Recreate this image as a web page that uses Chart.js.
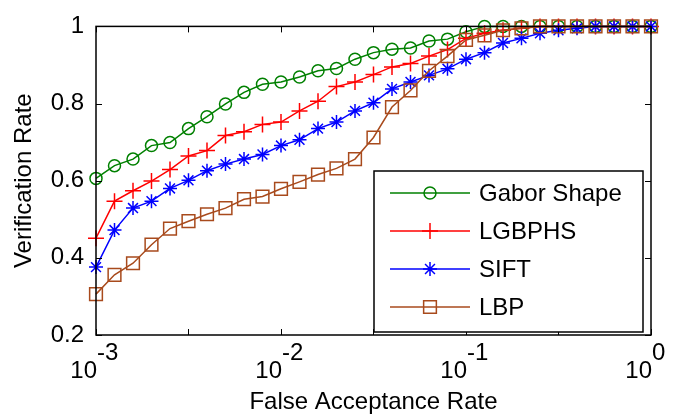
<!DOCTYPE html>
<html>
<head>
<meta charset="utf-8">
<script src="https://cdn.jsdelivr.net/npm/chart.js@4.4.1/dist/chart.umd.min.js"></script>
<style>
  body { margin: 0; background: #fff; }
  #wrap { width: 689px; height: 417px; }
</style>
</head>
<body>
<div id="wrap"><canvas id="rocChart"></canvas></div>
<script>
// false acceptance rate, one point every tenth of a decade
const far = [0.001, 0.001259, 0.001585, 0.001995, 0.002512, 0.003162, 0.003981, 0.005012, 0.00631, 0.007943,
  0.01, 0.01259, 0.01585, 0.01995, 0.02512, 0.03162, 0.03981, 0.05012, 0.0631, 0.07943,
  0.1, 0.1259, 0.1585, 0.1995, 0.2512, 0.3162, 0.3981, 0.5012, 0.631, 0.7943, 1];

const gaborShape = [0.606, 0.639, 0.656, 0.691, 0.699, 0.735, 0.766, 0.799, 0.829, 0.850,
  0.856, 0.869, 0.885, 0.891, 0.915, 0.932, 0.941, 0.944, 0.962, 0.967,
  0.986, 1, 1, 1, 1, 1, 1, 1, 1, 1, 1];
const lgbphs = [0.451, 0.547, 0.574, 0.599, 0.629, 0.664, 0.678, 0.717, 0.727, 0.746,
  0.752, 0.781, 0.806, 0.844, 0.856, 0.875, 0.895, 0.904, 0.923, 0.940,
  0.969, 0.982, 0.990, 0.995, 1, 1, 1, 1, 1, 1, 1];
const sift = [0.376, 0.472, 0.529, 0.547, 0.580, 0.601, 0.626, 0.643, 0.656, 0.668,
  0.691, 0.706, 0.735, 0.752, 0.781, 0.802, 0.838, 0.856, 0.873, 0.890,
  0.915, 0.932, 0.957, 0.969, 0.982, 0.990, 0.995, 1, 1, 1, 1];
const lbp = [0.306, 0.356, 0.386, 0.434, 0.476, 0.495, 0.513, 0.529, 0.552, 0.559,
  0.579, 0.597, 0.616, 0.632, 0.656, 0.712, 0.791, 0.834, 0.885, 0.923,
  0.965, 0.977, 0.990, 0.995, 1, 1, 1, 1, 1, 1, 1];

const seriesNames = ['Gabor Shape', 'LGBPHS', 'SIFT', 'LBP'];
const yTicks = [0.2, 0.4, 0.6, 0.8, 1];
const xTickMarks = [0.001, 0.003162, 0.01, 0.03162, 0.1, 0.3162, 1];
const xDecades = [-3, -2, -1, 0];

const FONT = "'Liberation Sans', Arial, sans-serif";

function pts(ys) {
  return ys.map((y, i) => ({ x: far[i], y: y }));
}

function makeSet(label, ys, color, style, radius, order) {
  return {
    label: label,
    data: pts(ys),
    borderColor: color,
    backgroundColor: color,
    borderWidth: 1.5,
    pointStyle: style,
    pointRadius: radius,
    pointBorderColor: color,
    pointBackgroundColor: 'rgba(0,0,0,0)',
    pointBorderWidth: 1.5,
    tension: 0,
    clip: false,
    order: order
  };
}

const datasets = [
  makeSet(seriesNames[0], gaborShape, '#008000', 'circle', 6, 4),
  makeSet(seriesNames[1], lgbphs, '#ff0000', 'cross', 8, 3),
  makeSet(seriesNames[2], sift, '#0000ff', 'star', 7, 2),
  makeSet(seriesNames[3], lbp, '#a84a1c', 'rect', 9, 1)
];

// box, inward ticks, decade labels and the legend, MATLAB style
const matlabAxes = {
  id: 'matlabAxes',
  afterDatasetsDraw(chart) {
    const ctx = chart.ctx;
    const a = chart.chartArea;
    const xs = chart.scales.x;
    const ys = chart.scales.y;
    ctx.save();
    ctx.strokeStyle = '#000';
    ctx.lineWidth = 1.5;
    ctx.strokeRect(a.left, a.top, a.right - a.left, a.bottom - a.top);

    ctx.lineWidth = 1;
    ctx.beginPath();
    xTickMarks.forEach(v => {
      const px = Math.round(xs.getPixelForValue(v)) + 0.5;
      ctx.moveTo(px, a.bottom); ctx.lineTo(px, a.bottom - 6);
      ctx.moveTo(px, a.top); ctx.lineTo(px, a.top + 6);
    });
    yTicks.forEach(v => {
      const py = Math.round(ys.getPixelForValue(v)) + 0.5;
      ctx.moveTo(a.left, py); ctx.lineTo(a.left + 6, py);
      ctx.moveTo(a.right, py); ctx.lineTo(a.right - 6, py);
    });
    ctx.stroke();

    // 10^e labels under the axis
    ctx.fillStyle = '#000';
    ctx.font = '24px ' + FONT;
    ctx.textBaseline = 'alphabetic';
    ctx.textAlign = 'left';
    xDecades.forEach(e => {
      const px = xs.getPixelForValue(Math.pow(10, e));
      const base = '10';
      const exp = String(e);
      const wb = ctx.measureText(base).width;
      ctx.fillText(base, px - wb + 1, 378);
      ctx.fillText(exp, px + 1, 360);
    });

    // legend box
    const L = { left: 374, top: 171, right: 643, bottom: 332 };
    ctx.fillStyle = '#fff';
    ctx.fillRect(L.left, L.top, L.right - L.left, L.bottom - L.top);
    ctx.strokeStyle = '#000';
    ctx.lineWidth = 1.5;
    ctx.strokeRect(L.left, L.top, L.right - L.left, L.bottom - L.top);

    const rowY = [193, 231, 269, 307];
    ctx.textBaseline = 'middle';
    chart.data.datasets.forEach((ds, i) => {
      const y = rowY[i];
      ctx.strokeStyle = ds.borderColor;
      ctx.lineWidth = 1.5;
      ctx.beginPath();
      ctx.moveTo(390, y); ctx.lineTo(470, y);
      ctx.stroke();
      ctx.fillStyle = 'rgba(0,0,0,0)';
      Chart.helpers.drawPoint(ctx, {
        pointStyle: ds.pointStyle,
        radius: ds.pointRadius,
        borderWidth: 1.5,
        rotation: 0
      }, 430, y);
      ctx.fillStyle = '#000';
      ctx.fillText(ds.label, 479, y + 1);
    });
    ctx.restore();
  }
};

new Chart(document.getElementById('rocChart'), {
  type: 'line',
  data: { datasets: datasets },
  plugins: [matlabAxes],
  options: {
    responsive: true,
    maintainAspectRatio: false,
    animation: false,
    layout: { padding: { top: 16, right: 38, left: 0, bottom: 0 } },
    plugins: {
      legend: { display: false },
      tooltip: { enabled: false }
    },
    scales: {
      x: {
        type: 'logarithmic',
        min: 0.001,
        max: 1,
        grid: { display: false, drawTicks: false },
        border: { display: false },
        ticks: { display: false },
        title: {
          display: true,
          text: 'False Acceptance Rate',
          color: '#000',
          font: { family: FONT, size: 24 },
          padding: { top: 0, bottom: 0 }
        },
        afterFit(scale) { scale.height = 82; }
      },
      y: {
        min: 0.2,
        max: 1,
        grid: { display: false, drawTicks: false },
        border: { display: false },
        ticks: {
          stepSize: 0.2,
          padding: 12,
          color: '#000',
          font: { family: FONT, size: 24 },
          callback: v => String(+v.toFixed(1))
        },
        title: {
          display: true,
          text: 'Verification Rate',
          color: '#000',
          font: { family: FONT, size: 24 },
          padding: { top: 10, bottom: 10 }
        },
        afterFit(scale) { scale.width = 96; }
      }
    }
  }
});
</script>
</body>
</html>
